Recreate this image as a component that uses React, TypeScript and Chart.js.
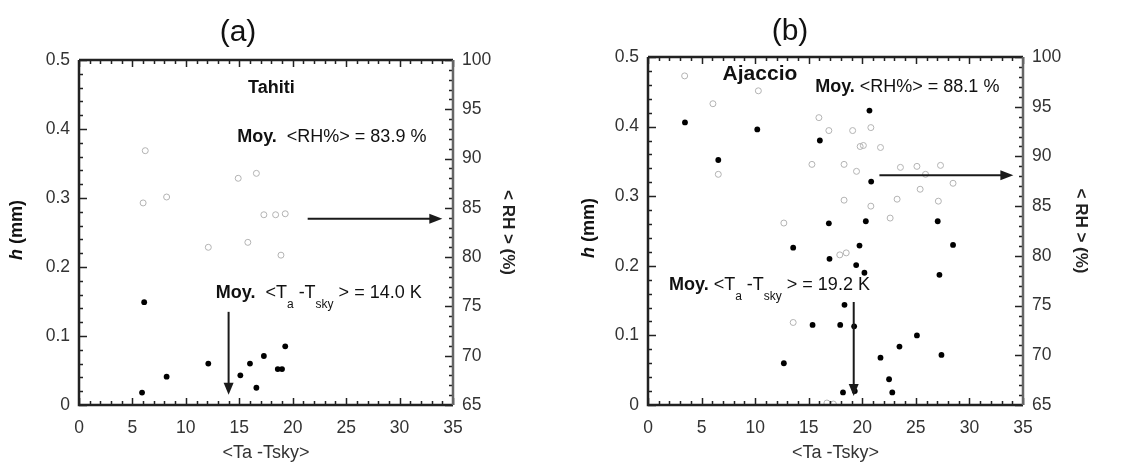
import React, { useEffect, useRef } from 'react';
import { Chart, registerables } from 'chart.js';

Chart.register(...registerables);

const FONT = '"Liberation Sans", Arial, Helvetica, sans-serif';

// ---------- Panel (a) : Tahiti ----------
const tahitiHx = [6.1, 5.9, 8.2, 12.1, 15.1, 16.0, 17.3, 16.6, 18.6, 19.0, 19.3];
const tahitiH = [0.149, 0.018, 0.041, 0.060, 0.043, 0.060, 0.071, 0.025, 0.052, 0.052, 0.085];
const tahitiRHx = [6.2, 6.0, 8.2, 12.1, 14.9, 16.6, 15.8, 17.3, 18.4, 19.3, 18.9];
const tahitiRH = [90.8, 85.5, 86.1, 81.0, 88.0, 88.5, 81.5, 84.3, 84.3, 84.4, 80.2];
const tahitiMeanDT = 14.0;
const tahitiMeanRH = 83.9;

// ---------- Panel (b) : Ajaccio ----------
const ajaccioHx = [3.45, 10.2, 6.56, 20.67, 16.04, 20.83, 16.88, 20.33, 27.04, 28.47, 13.55, 19.74, 16.94, 19.43, 20.2, 27.2, 18.34, 15.36, 17.94, 19.24, 25.1, 23.47, 21.7, 27.39, 12.68, 22.5, 22.8, 18.2, 19.3];
const ajaccioH = [0.406, 0.396, 0.352, 0.423, 0.380, 0.321, 0.261, 0.264, 0.264, 0.230, 0.226, 0.229, 0.210, 0.201, 0.190, 0.187, 0.144, 0.115, 0.115, 0.113, 0.100, 0.084, 0.068, 0.072, 0.060, 0.037, 0.018, 0.018, 0.020];
const ajaccioRHx = [3.42, 10.3, 6.06, 6.56, 15.95, 16.88, 19.1, 20.8, 20.1, 19.8, 21.7, 15.3, 18.3, 19.46, 23.56, 25.1, 25.9, 27.3, 28.47, 18.3, 20.8, 23.25, 25.4, 27.1, 22.6, 12.68, 17.9, 18.5, 13.55, 16.7, 17.3];
const ajaccioRH = [98.1, 96.6, 95.3, 88.2, 93.9, 92.6, 92.6, 92.9, 91.1, 91.0, 90.9, 89.2, 89.2, 88.5, 88.9, 89.0, 88.2, 89.1, 87.3, 85.6, 85.0, 85.7, 86.7, 85.5, 83.8, 83.3, 80.1, 80.3, 73.3, 65.2, 65.1];
const ajaccioMeanDT = 19.2;
const ajaccioMeanRH = 88.1;

// axis ranges / tick labels
const xRange = [0, 35];
const hRange = [0, 0.5];
const rhRange = [65, 100];
const xAxisTitle = '<Ta -Tsky>';
const rhAxisTitle = '< RH > (%)';

type Run = { text: string; font: string; dy?: number };

function drawRich(ctx: CanvasRenderingContext2D, x: number, y: number, runs: Run[]) {
  let cx = x;
  for (const r of runs) {
    ctx.font = r.font;
    ctx.fillText(r.text, cx, y + (r.dy || 0));
    cx += ctx.measureText(r.text).width;
  }
}

type PanelCfg = {
  title: string;
  titleX: number;
  titleY: number;
  station: string;
  stationFont: string;
  stationPos: [number, number];
  rhTextPos: [number, number];
  dtTextPos: [number, number];
  gap: string;
  meanDT: number;
  meanRH: number;
  vArrow: [number, number];
  hArrow: [number, number];
  area: { left: number; right: number; top: number };
  leftTitleX: number;
  leftTitleY: number;
  rightTitlePad: number;
  hx: number[];
  h: number[];
  rhx: number[];
  rh: number[];
};

function makePlugin(cfg: PanelCfg) {
  return {
    id: 'frameAndNotes',
    afterDraw(chart: any) {
      const ctx: CanvasRenderingContext2D = chart.ctx;
      const a = chart.chartArea;
      const xs = chart.scales.x;
      const ys = chart.scales.y;
      const y1 = chart.scales.y1;
      ctx.save();

      // ticks (inward), minor + major
      ctx.strokeStyle = '#222';
      ctx.lineWidth = 1.5;
      ctx.beginPath();
      for (let v = xRange[0]; v <= xRange[1]; v += 1) {
        const px = Math.round(xs.getPixelForValue(v)) + 0.5;
        const len = v % 5 === 0 ? 7 : 4;
        ctx.moveTo(px, a.bottom);
        ctx.lineTo(px, a.bottom - len);
        ctx.moveTo(px, a.top);
        ctx.lineTo(px, a.top + len);
      }
      for (let i = 0; i <= 25; i++) {
        const v = i * 0.02;
        const py = Math.round(ys.getPixelForValue(v)) + 0.5;
        const len = i % 5 === 0 ? 8 : 4;
        ctx.moveTo(a.left, py);
        ctx.lineTo(a.left + len, py);
      }
      for (let v = rhRange[0]; v <= rhRange[1]; v += 1) {
        const py = Math.round(y1.getPixelForValue(v)) + 0.5;
        const len = v % 5 === 0 ? 8 : 4;
        ctx.moveTo(a.right, py);
        ctx.lineTo(a.right - len, py);
      }
      ctx.stroke();

      // frame
      ctx.lineWidth = 2.5;
      ctx.strokeStyle = '#222';
      ctx.beginPath();
      ctx.moveTo(a.left, a.top);
      ctx.lineTo(a.left, a.bottom);
      ctx.lineTo(a.right, a.bottom);
      ctx.moveTo(a.left, a.top);
      ctx.lineTo(a.right, a.top);
      ctx.stroke();
      ctx.strokeStyle = '#666';
      ctx.beginPath();
      ctx.moveTo(a.right, a.top);
      ctx.lineTo(a.right, a.bottom);
      ctx.stroke();

      // arrows
      ctx.strokeStyle = '#1a1a1a';
      ctx.fillStyle = '#1a1a1a';
      ctx.lineWidth = 2;
      const vx = xs.getPixelForValue(cfg.meanDT);
      const vy0 = ys.getPixelForValue(cfg.vArrow[0]);
      const vy1 = ys.getPixelForValue(cfg.vArrow[1]);
      ctx.beginPath();
      ctx.moveTo(vx, vy0);
      ctx.lineTo(vx, vy1 - 10);
      ctx.stroke();
      ctx.beginPath();
      ctx.moveTo(vx - 5, vy1 - 12);
      ctx.lineTo(vx + 5, vy1 - 12);
      ctx.lineTo(vx, vy1);
      ctx.closePath();
      ctx.fill();

      const hy = y1.getPixelForValue(cfg.meanRH);
      const hx0 = xs.getPixelForValue(cfg.hArrow[0]);
      const hx1 = xs.getPixelForValue(cfg.hArrow[1]);
      ctx.beginPath();
      ctx.moveTo(hx0, hy);
      ctx.lineTo(hx1 - 10, hy);
      ctx.stroke();
      ctx.beginPath();
      ctx.moveTo(hx1 - 13, hy - 5);
      ctx.lineTo(hx1 - 13, hy + 5);
      ctx.lineTo(hx1, hy);
      ctx.closePath();
      ctx.fill();

      // texts
      ctx.fillStyle = '#111';
      ctx.textBaseline = 'middle';
      ctx.textAlign = 'center';
      ctx.font = cfg.stationFont;
      ctx.fillText(cfg.station, xs.getPixelForValue(cfg.stationPos[0]), ys.getPixelForValue(cfg.stationPos[1]));

      ctx.textAlign = 'left';
      const f = `18px ${FONT}`;
      const fb = `bold 18px ${FONT}`;
      const fs = `12px ${FONT}`;
      drawRich(ctx, xs.getPixelForValue(cfg.rhTextPos[0]), ys.getPixelForValue(cfg.rhTextPos[1]), [
        { text: 'Moy.', font: fb },
        { text: `${cfg.gap}<RH%> = ${cfg.meanRH.toFixed(1)} %`, font: f },
      ]);
      drawRich(ctx, xs.getPixelForValue(cfg.dtTextPos[0]), ys.getPixelForValue(cfg.dtTextPos[1]), [
        { text: 'Moy.', font: fb },
        { text: `${cfg.gap}<T`, font: f },
        { text: 'a', font: fs, dy: 11 },
        { text: ' -T', font: f },
        { text: 'sky', font: fs, dy: 11 },
        { text: ' > = ' + cfg.meanDT.toFixed(1) + ' K', font: f },
      ]);

      // panel title
      ctx.textAlign = 'center';
      ctx.font = `30px ${FONT}`;
      ctx.fillText(cfg.title, cfg.titleX, cfg.titleY);

      // left axis title: italic h (mm)
      ctx.save();
      ctx.translate(cfg.leftTitleX, cfg.leftTitleY);
      ctx.rotate(-Math.PI / 2);
      ctx.textAlign = 'left';
      const hFont = `italic bold 18px ${FONT}`;
      const mmFont = `bold 18px ${FONT}`;
      ctx.font = hFont;
      const w1 = ctx.measureText('h').width;
      ctx.font = mmFont;
      const w2 = ctx.measureText(' (mm)').width;
      drawRich(ctx, -(w1 + w2) / 2, 0, [
        { text: 'h', font: hFont },
        { text: ' (mm)', font: mmFont },
      ]);
      ctx.restore();

      ctx.restore();
    },
  };
}

function Panel({ cfg }: { cfg: PanelCfg }) {
  const ref = useRef<HTMLCanvasElement | null>(null);
  useEffect(() => {
    if (!ref.current) return;
    const W = 564;
    const chart = new Chart(ref.current, {
      type: 'scatter',
      data: {
        datasets: [
          {
            label: 'h',
            data: cfg.hx.map((x, i) => ({ x, y: cfg.h[i] })),
            yAxisID: 'y',
            pointStyle: 'circle',
            pointRadius: 2.9,
            backgroundColor: '#000',
            borderColor: '#000',
            borderWidth: 0,
          },
          {
            label: 'RH',
            data: cfg.rhx.map((x, i) => ({ x, y: cfg.rh[i] })),
            yAxisID: 'y1',
            pointStyle: 'circle',
            pointRadius: 3,
            backgroundColor: 'rgba(255,255,255,0)',
            borderColor: '#b3b3b3',
            borderWidth: 1,
          },
        ],
      },
      options: {
        responsive: false,
        animation: false,
        devicePixelRatio: 1,
        layout: { padding: { top: cfg.area.top, left: 0, right: 0, bottom: 0 } },
        plugins: { legend: { display: false }, tooltip: { enabled: false }, title: { display: false } },
        scales: {
          x: {
            type: 'linear',
            position: 'bottom',
            min: xRange[0],
            max: xRange[1],
            ticks: { stepSize: 5, font: { family: FONT, size: 17.5 }, color: '#333', padding: 13, maxRotation: 0 },
            grid: { display: false, drawTicks: false },
            border: { display: false },
            title: {
              display: true,
              text: xAxisTitle,
              font: { family: FONT, size: 18 },
              color: '#333',
              padding: { top: 0, bottom: 3 },
            },
            afterFit: (s: any) => {
              s.height = 62;
            },
          },
          y: {
            type: 'linear',
            position: 'left',
            min: hRange[0],
            max: hRange[1],
            ticks: {
              stepSize: 0.1,
              font: { family: FONT, size: 17.5 },
              color: '#333',
              padding: 9,
              callback: (v: any) => (Math.abs(v) < 1e-9 ? '0' : Number(v).toFixed(1)),
            },
            grid: { display: false, drawTicks: false },
            border: { display: false },
            afterFit: (s: any) => {
              s.width = cfg.area.left;
            },
          },
          y1: {
            type: 'linear',
            position: 'right',
            min: rhRange[0],
            max: rhRange[1],
            ticks: { stepSize: 5, font: { family: FONT, size: 17.5 }, color: '#333', padding: 9 },
            grid: { display: false, drawTicks: false },
            border: { display: false },
            title: {
              display: true,
              text: rhAxisTitle,
              font: { family: FONT, size: 17, weight: 'bold' },
              color: '#222',
              padding: { top: cfg.rightTitlePad, bottom: 0 },
            },
            afterFit: (s: any) => {
              s.width = W - cfg.area.right;
            },
          },
        },
      } as any,
      plugins: [makePlugin(cfg)],
    });
    return () => chart.destroy();
  }, [cfg]);
  return <canvas ref={ref} width={564} height={467} style={{ display: 'block', width: 564, height: 467 }} />;
}

const panelA: PanelCfg = {
  title: '(a)',
  titleX: 238,
  titleY: 33,
  station: 'Tahiti',
  stationFont: `bold 18px ${FONT}`,
  stationPos: [18.0, 0.459],
  rhTextPos: [14.8, 0.389],
  dtTextPos: [12.8, 0.162],
  gap: '  ',
  meanDT: tahitiMeanDT,
  meanRH: tahitiMeanRH,
  vArrow: [0.135, 0.015],
  hArrow: [21.4, 34.0],
  area: { left: 79, right: 453, top: 60 },
  leftTitleX: 17,
  leftTitleY: 230,
  rightTitlePad: 46,
  hx: tahitiHx,
  h: tahitiH,
  rhx: tahitiRHx,
  rh: tahitiRH,
};

const panelB: PanelCfg = {
  title: '(b)',
  titleX: 226,
  titleY: 32,
  station: 'Ajaccio',
  stationFont: `bold 21px ${FONT}`,
  stationPos: [10.45, 0.475],
  rhTextPos: [15.6, 0.4565],
  dtTextPos: [1.96, 0.172],
  gap: ' ',
  meanDT: ajaccioMeanDT,
  meanRH: ajaccioMeanRH,
  vArrow: [0.148, 0.013],
  hArrow: [21.6, 34.1],
  area: { left: 84, right: 459, top: 57 },
  leftTitleX: 25,
  leftTitleY: 228,
  rightTitlePad: 37,
  hx: ajaccioHx,
  h: ajaccioH,
  rhx: ajaccioRHx,
  rh: ajaccioRH,
};

export default function App() {
  return (
    <div
      style={{
        position: 'fixed',
        left: 0,
        top: 0,
        width: 1128,
        height: 467,
        display: 'flex',
        background: '#fff',
      }}
    >
      <Panel cfg={panelA} />
      <Panel cfg={panelB} />
    </div>
  );
}
